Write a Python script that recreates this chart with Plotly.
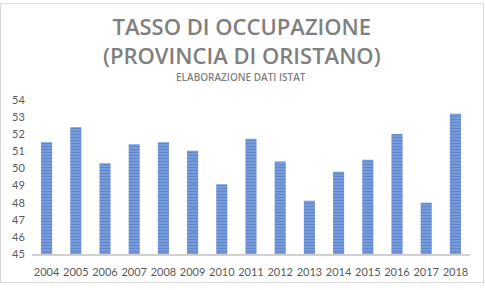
import plotly.graph_objects as go

years = ["2004", "2005", "2006", "2007", "2008", "2009", "2010", "2011",
         "2012", "2013", "2014", "2015", "2016", "2017", "2018"]
rates = [51.53, 52.41, 50.30, 51.41, 51.53, 51.04, 49.07, 51.73,
         50.41, 48.11, 49.81, 50.51, 52.02, 48.00, 53.20]
y_ticks = [45, 46, 47, 48, 49, 50, 51, 52, 53, 54]

title_line1 = "TASSO DI OCCUPAZIONE"
title_line2 = "(PROVINCIA DI ORISTANO)"
subtitle = "ELABORAZIONE DATI ISTAT"

W, H = 485, 290
ml, mr, mt, mb = 32, 15, 100, 31
ph = H - mt - mb
pw = W - ml - mr

fig = go.Figure()
fig.add_trace(go.Bar(
    x=years, y=rates,
    marker=dict(
        color="#7FA0DD",
        line=dict(width=0),
        pattern=dict(shape="-", fgcolor="#3F6CC0", bgcolor="#7FA0DD",
                     size=3, solidity=0.5),
    ),
    hoverinfo="x+y",
))

def py(px_from_top):
    return 1 + (mt - px_from_top) / ph

def px(x_pix):
    return (x_pix - ml) / pw

fig.add_annotation(text=title_line1 + "<br>" + title_line2, xref="paper", yref="paper",
                   x=px(242), y=py(38.5),
                   xanchor="center", yanchor="middle", showarrow=False, align="center",
                   font=dict(family="Open Sans", size=22, color="#7f7f7f", weight=600))
fig.add_annotation(text=subtitle, xref="paper", yref="paper",
                   x=px(241), y=py(76.5),
                   xanchor="center", yanchor="middle", showarrow=False,
                   font=dict(family="Open Sans", size=10, color="#7f7f7f", weight=600))

# light outer border of chart area
fig.add_shape(type="rect", xref="paper", yref="paper",
              x0=-(ml - 0.5) / pw, x1=1 + (mr - 1.5) / pw,
              y0=-(mb - 1.5) / ph, y1=1 + (mt - 0.5) / ph,
              line=dict(color="#d9d9d9", width=1), fillcolor="rgba(0,0,0,0)",
              layer="below")

fig.update_layout(
    width=W, height=H,
    margin=dict(l=ml, r=mr, t=mt, b=mb),
    paper_bgcolor="white", plot_bgcolor="white",
    bargap=0.62,
    showlegend=False,
    font=dict(family="Lato", size=11, color="#595959"),
    xaxis=dict(showgrid=False, showline=True, linecolor="#d0d0d0", linewidth=1.5,
               ticks="outside", ticklen=7, tickcolor="rgba(0,0,0,0)",
               tickfont=dict(size=11, color="#595959"), fixedrange=True),
    yaxis=dict(range=[45, 54], tickvals=y_ticks, showgrid=False, zeroline=False,
               showline=False, ticks="outside", ticklen=4, tickcolor="rgba(0,0,0,0)",
               tickfont=dict(size=11, color="#595959"), fixedrange=True),
)

fig.write_html("out.html")
